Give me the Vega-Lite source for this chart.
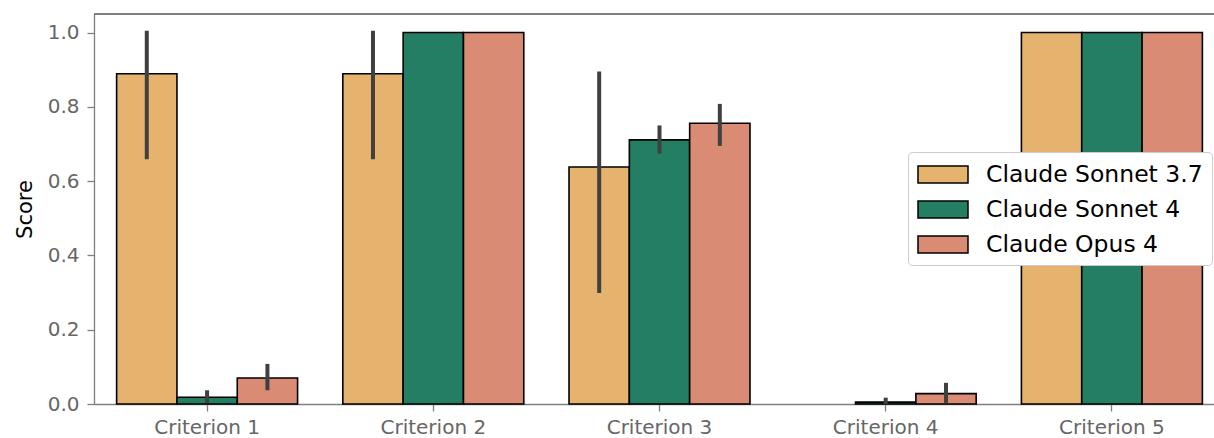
{
  "$schema": "https://vega.github.io/schema/vega-lite/v6.json",
  "autosize": "none",
  "width": 1120,
  "height": 390,
  "padding": {"left": 94, "top": 14, "right": 0, "bottom": 34},
  "background": "white",
  "config": {
    "view": {"stroke": null},
    "font": "DejaVu Sans",
    "axis": {
      "domainColor": "#7f7f7f",
      "domainWidth": 1.3,
      "tickColor": "#7f7f7f",
      "tickWidth": 1.3,
      "tickSize": 7,
      "labelColor": "#666666",
      "labelFontSize": 20,
      "labelFont": "DejaVu Sans",
      "grid": false
    }
  },
  "data": {
    "values": [
      {"criterion": "Criterion 1", "model": "Claude Sonnet 3.7", "score": 0.889, "lo": 0.659, "hi": 1.005},
      {"criterion": "Criterion 1", "model": "Claude Sonnet 4", "score": 0.018, "lo": 0.003, "hi": 0.037},
      {"criterion": "Criterion 1", "model": "Claude Opus 4", "score": 0.070, "lo": 0.037, "hi": 0.108},
      {"criterion": "Criterion 2", "model": "Claude Sonnet 3.7", "score": 0.889, "lo": 0.659, "hi": 1.005},
      {"criterion": "Criterion 2", "model": "Claude Sonnet 4", "score": 1.0, "lo": null, "hi": null},
      {"criterion": "Criterion 2", "model": "Claude Opus 4", "score": 1.0, "lo": null, "hi": null},
      {"criterion": "Criterion 3", "model": "Claude Sonnet 3.7", "score": 0.638, "lo": 0.299, "hi": 0.895},
      {"criterion": "Criterion 3", "model": "Claude Sonnet 4", "score": 0.711, "lo": 0.674, "hi": 0.750},
      {"criterion": "Criterion 3", "model": "Claude Opus 4", "score": 0.756, "lo": 0.695, "hi": 0.808},
      {"criterion": "Criterion 4", "model": "Claude Sonnet 3.7", "score": 0.0, "lo": null, "hi": null},
      {"criterion": "Criterion 4", "model": "Claude Sonnet 4", "score": 0.005, "lo": 0.0, "hi": 0.017},
      {"criterion": "Criterion 4", "model": "Claude Opus 4", "score": 0.028, "lo": 0.003, "hi": 0.057},
      {"criterion": "Criterion 5", "model": "Claude Sonnet 3.7", "score": 1.0, "lo": null, "hi": null},
      {"criterion": "Criterion 5", "model": "Claude Sonnet 4", "score": 1.0, "lo": null, "hi": null},
      {"criterion": "Criterion 5", "model": "Claude Opus 4", "score": 1.0, "lo": null, "hi": null}
    ]
  },
  "encoding": {
    "x": {
      "field": "criterion",
      "type": "nominal",
      "sort": null,
      "scale": {"range": [0, 1131], "paddingInner": 0.2, "paddingOuter": 0.1},
      "axis": {"title": null, "labelAngle": 0, "labelPadding": 6}
    },
    "xOffset": {
      "field": "model",
      "type": "nominal",
      "sort": ["Claude Sonnet 3.7", "Claude Sonnet 4", "Claude Opus 4"],
      "scale": {"paddingInner": 0, "paddingOuter": 0}
    }
  },
  "layer": [
    {
      "transform": [{"filter": "datum.score > 0"}],
      "mark": {"type": "bar", "stroke": "black", "strokeWidth": 1.6},
      "encoding": {
        "y": {
          "field": "score",
          "type": "quantitative",
          "scale": {"domain": [0, 1.05], "nice": false, "zero": true},
          "axis": {
            "title": "Score",
            "titleFontSize": 21,
            "titleFontWeight": "normal",
            "titleColor": "black",
            "titleFont": "DejaVu Sans",
            "titlePadding": 12,
            "values": [0, 0.2, 0.4, 0.6, 0.8, 1.0],
            "format": ".1f",
            "labelPadding": 8
          }
        },
        "fill": {
          "field": "model",
          "type": "nominal",
          "sort": ["Claude Sonnet 3.7", "Claude Sonnet 4", "Claude Opus 4"],
          "scale": {
            "domain": ["Claude Sonnet 3.7", "Claude Sonnet 4", "Claude Opus 4"],
            "range": ["#e6b36e", "#237e63", "#d98b73"]
          },
          "legend": {
            "title": null,
            "orient": "none",
            "legendX": 814,
            "legendY": 138,
            "fillColor": "white",
            "strokeColor": "#cccccc",
            "cornerRadius": 4,
            "padding": 9,
            "rowPadding": 10,
            "symbolType": "M-1,-0.68L3,-0.68L3,0.68L-1,0.68Z",
            "symbolSize": 625,
            "symbolStrokeColor": "black",
            "symbolStrokeWidth": 1.5,
            "symbolOpacity": 1,
            "labelFontSize": 23.5,
            "labelColor": "black",
            "labelFont": "DejaVu Sans",
            "labelOffset": 42,
            "labelLimit": 400
          }
        }
      }
    },
    {
      "transform": [{"filter": "datum.lo != null"}],
      "mark": {"type": "rule", "color": "#404040", "strokeWidth": 4, "strokeCap": "butt"},
      "encoding": {
        "y": {"field": "lo", "type": "quantitative"},
        "y2": {"field": "hi"}
      }
    },
    {
      "mark": {"type": "rule", "color": "#7f7f7f", "strokeWidth": 1.3},
      "encoding": {
        "y": {"datum": 1.05, "type": "quantitative"},
        "x": {"value": 0},
        "x2": {"value": 1120},
        "xOffset": null
      }
    }
  ]
}
